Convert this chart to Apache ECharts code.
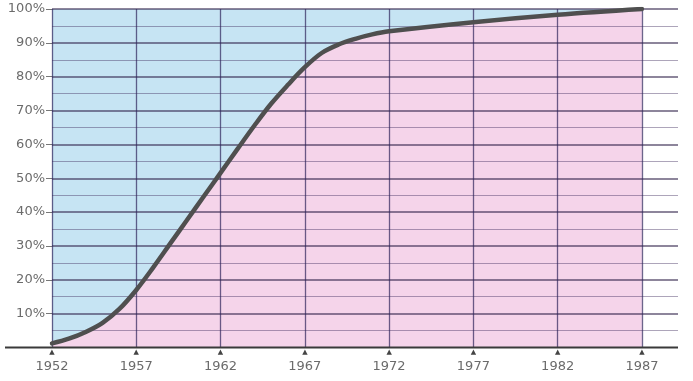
<!DOCTYPE html>
<html>
<head>
<meta charset="utf-8">
<script src="https://cdn.jsdelivr.net/npm/echarts@6/dist/echarts.min.js"></script>
<style>
html,body{margin:0;padding:0;background:#fff;}
#c{width:693px;height:381px;}
</style>
</head>
<body>
<div id="c"></div>
<script>
// ---- data ----
const years = [1952,1953,1954,1955,1956,1957,1958,1959,1960,1961,1962,1963,1964,1965,1966,1967,1968,1969,1970,1971,1972,1977,1982,1987];
const share = [1.2,2.6,4.6,7.3,11.4,17.0,23.6,30.6,37.6,44.6,51.6,58.6,65.5,72.0,77.6,82.8,87.0,89.5,91.2,92.5,93.4,96.1,98.3,100];
const xTicks = [1952,1957,1962,1967,1972,1977,1982,1987];
const yGridValues = [5,10,15,20,25,30,35,40,45,50,55,60,65,70,75,80,85,90,95,100];
const fullShare = 100;

// ---- build ----
const lowerData = years.map((y,i)=>[y, share[i]]);
const topData = [[years[0], fullShare], [years[years.length-1], fullShare]];

const chart = echarts.init(document.getElementById('c'), null, {renderer:'canvas'});
const FONT = 'DejaVu Sans';

const hLines = yGridValues.map(v => ({
  yAxis: v,
  lineStyle: v % 10 === 0
    ? {color:'rgba(45,30,70,0.72)', width:1.6, type:'solid'}
    : {color:'rgba(60,40,90,0.42)', width:1, type:'solid'}
}));
const vLines = xTicks.map(x => ({
  xAxis: x,
  lineStyle: {color:'rgba(45,35,90,0.7)', width:1.3, type:'solid'}
}));

const option = {
  animation: false,
  backgroundColor: '#ffffff',
  grid: {left: 52, right: 15, top: 9, bottom: 33.5, containLabel: false},
  xAxis: {
    type: 'value',
    min: 1952,
    max: 1989.14,
    interval: 5,
    axisLine: {show: false},
    axisTick: {show: false},
    splitLine: {show: false},
    axisLabel: {
      margin: 1,
      formatter: function (v) {
        if (xTicks.indexOf(Math.round(v)) >= 0 && Math.abs(v - Math.round(v)) < 1e-6) {
          return '{a|▲}\n{b|' + Math.round(v) + '}';
        }
        return '';
      },
      rich: {
        a: {fontSize: 7, lineHeight: 8, color: '#444', fontFamily: FONT},
        b: {fontSize: 13, lineHeight: 20, color: '#6b6b6b', fontFamily: FONT}
      }
    }
  },
  yAxis: {
    type: 'value',
    min: 0,
    max: 100,
    interval: 10,
    axisLine: {show: false},
    axisTick: {show: true, length: 6, lineStyle: {color: '#777', width: 1}},
    splitLine: {show: false},
    axisLabel: {
      margin: 7,
      formatter: function (v) { return v === 0 ? '' : v + '%'; },
      color: '#6b6b6b',
      fontSize: 13,
      fontFamily: FONT
    }
  },
  series: [
    {
      name: 'above',
      type: 'line',
      data: topData,
      showSymbol: false,
      lineStyle: {width: 0},
      areaStyle: {color: '#c6e4f3', opacity: 1},
      z: 1,
      silent: true
    },
    {
      name: 'below',
      type: 'line',
      data: lowerData,
      smooth: 0.35,
      showSymbol: false,
      lineStyle: {width: 0},
      areaStyle: {color: '#f5d4ea', opacity: 1},
      z: 1,
      silent: true,
      markLine: {
        silent: true,
        symbol: ['none','none'],
        label: {show: false},
        data: hLines.concat(vLines)
      }
    },
    {
      name: 'curve',
      type: 'line',
      data: lowerData,
      smooth: 0.35,
      showSymbol: false,
      lineStyle: {width: 4.5, color: '#4f4f4f', cap: 'round'},
      z: 10,
      silent: true
    }
  ]
};
chart.setOption(option);

// baseline (x axis line) extending left of the plot area
const y0 = chart.convertToPixel({yAxisIndex: 0}, 0);
chart.setOption({
  graphic: [{
    type: 'line',
    shape: {x1: 5, y1: y0, x2: 678, y2: y0},
    style: {stroke: '#3a3a3a', lineWidth: 2},
    z: 20
  }]
});
</script>
</body>
</html>
